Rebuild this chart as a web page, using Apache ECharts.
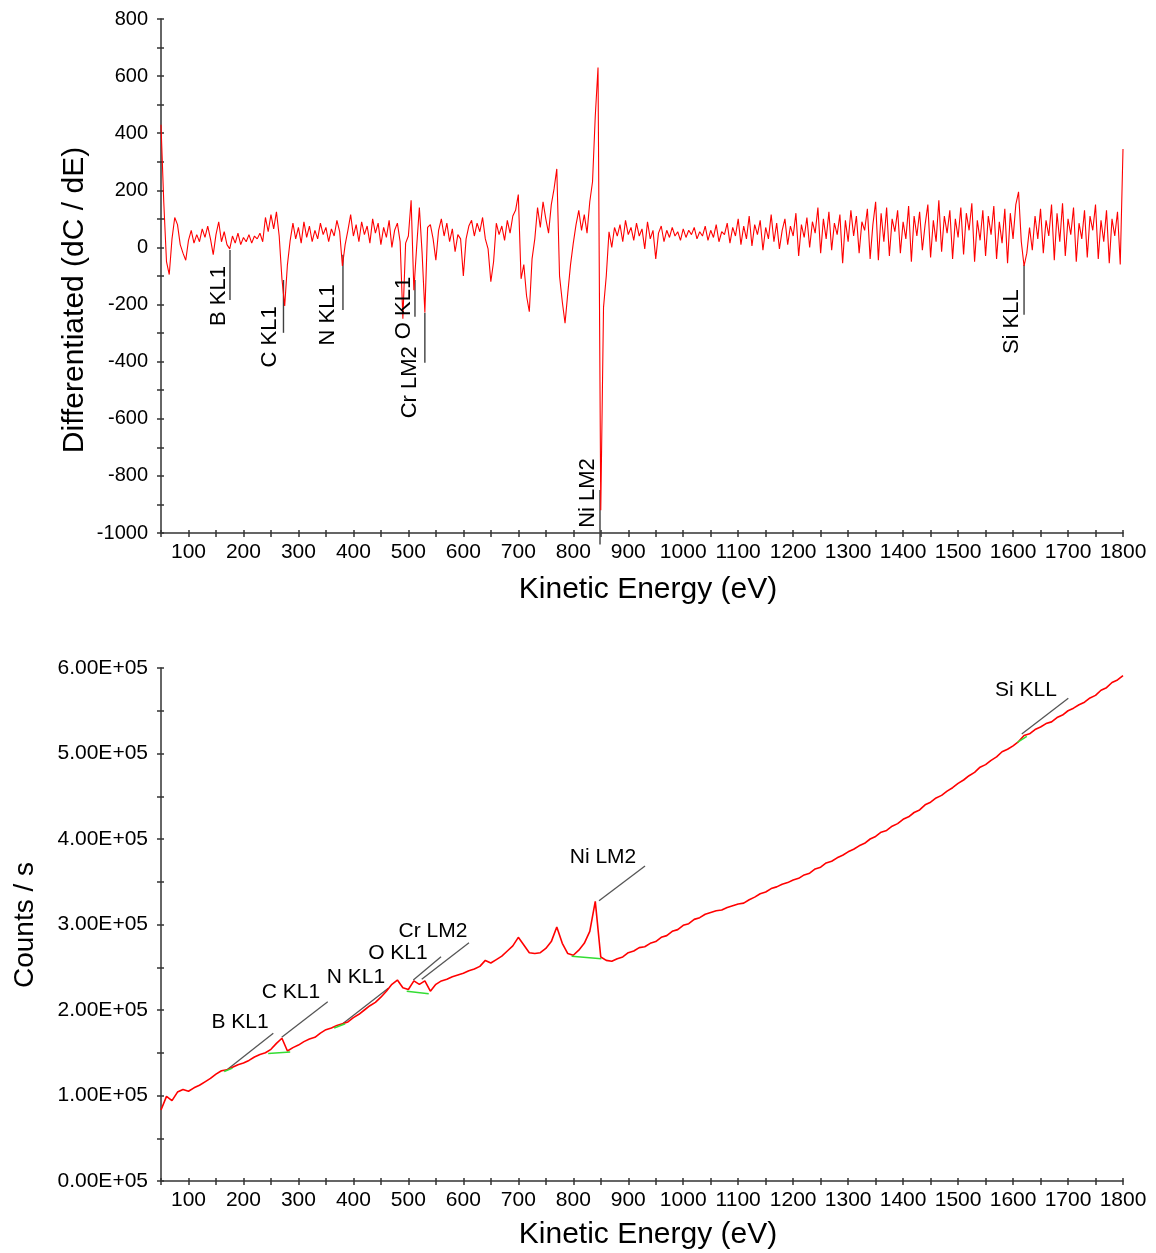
<!DOCTYPE html>
<html><head><meta charset="utf-8">
<script src="https://cdn.jsdelivr.net/npm/echarts@6/dist/echarts.min.js"></script>
<style>html,body{margin:0;padding:0;background:#fff}#c{width:1156px;height:1253px}</style>
</head><body><div id="c"></div>
<script>
// ---- sampling grids (eV) ----
const ENERGY_START = 50;
const DIFF_STEP = 5;     // differentiated spectrum sampling
const COUNTS_STEP = 10;  // direct spectrum sampling

// ---- top: differentiated spectrum dC/dE, 50..1800 eV every 5 eV ----
const differentiated = [
  430,160,-50,-95,30,105,80,10,-20,-45,25,60,15,45,20,65,35,75,30,-25,
  45,90,20,55,10,-5,40,15,50,10,35,20,45,15,40,30,50,20,105,55,
  115,65,125,40,-110,-205,-60,25,85,30,70,15,90,35,75,20,60,30,85,45,
  70,20,65,40,95,55,-65,10,60,115,40,80,20,90,45,75,15,100,50,85,
  10,70,35,95,0,60,85,20,-250,15,40,165,-150,0,140,-20,-228,70,80,30,
  -45,60,100,40,85,20,65,-15,45,30,-100,30,75,95,40,85,55,105,30,-5,
  -120,-50,85,45,75,25,95,50,110,130,185,-110,-60,-170,-225,-40,30,140,70,160,
  100,50,150,205,275,-100,-190,-265,-160,-60,15,80,130,60,115,50,160,230,460,630,
  -920,-210,-100,55,0,70,40,80,20,95,45,70,25,85,40,65,-5,90,30,60,
  -40,50,75,20,60,35,70,40,55,25,65,35,60,45,70,30,55,40,75,25,
  60,35,80,20,55,45,85,15,70,40,100,10,75,30,110,5,80,45,95,-10,
  70,30,115,20,85,-5,60,100,10,75,40,120,-30,80,35,105,0,90,50,140,
  -20,100,30,125,-10,85,45,115,-55,95,20,130,40,110,-20,90,60,135,-40,80,
  160,-45,120,20,140,-30,100,55,130,-20,90,30,145,-50,110,40,125,-10,80,150,
  -35,95,20,165,-15,110,50,130,-40,100,35,140,-25,120,60,155,-50,95,25,130,
  -30,110,45,145,-40,90,15,135,-55,120,30,150,195,20,-65,-20,70,-10,110,30,
  135,-20,95,40,150,-45,120,20,155,-30,100,45,140,-50,85,30,130,-35,110,60,
  150,-40,95,20,130,-55,100,40,125,-60,345
];

// ---- bottom: direct spectrum, counts/s in thousands, 50..1800 eV every 10 eV ----
const countsK = [
  83,99,94,104,107,105,109,112,116,120,125,129,130,133,136,138,141,145,148,150,
  154,161,167,152,156,159,163,166,168,173,177,179,182,184,186,191,195,200,205,209,
  215,222,230,235,226,224,234,230,234,222,230,234,236,239,241,243,246,248,251,258,
  255,259,263,269,275,285,276,267,266,267,272,280,297,278,266,264,270,278,292,327,
  262,258,257,260,262,267,269,273,274,278,280,285,287,292,294,299,301,306,308,312,
  314,316,317,320,322,324,325,329,332,336,338,342,344,347,349,352,354,358,360,365,
  367,372,374,378,381,385,388,392,395,400,403,408,410,415,418,423,426,431,434,440,
  443,448,451,456,460,465,469,474,478,484,487,492,496,502,505,509,514,521,523,528,
  531,535,537,542,545,550,553,557,560,565,568,574,577,583,586,591
];

// ---- peak identifications ----
const peakNames = ['B KL1','C KL1','N KL1','O KL1','Cr LM2','Ni LM2','Si KLL'];
// top chart: vertical markers (energy, top value, bottom value) and rotated label anchor
const topMarkEnergy = [175.5, 272.8, 381, 512, 530, 848.6, 1620];
const topMarkHigh   = [-9, -114, -26, -114, -229, -849, -61];
const topMarkLow    = [-184, -299, -219, -243, -404, -1040, -236];
const topLabelEnergy = [155, 248, 354, 492, 503, 827, 1598];
const topLabelValue  = [-170, -313, -236, -212, -472, -860, -260];
// bottom chart: slanted leader lines (from peak to label) and label anchor
const botLineE1 = [169.5, 269.6, 381.6, 509, 524.3, 846.8, 1615.8];
const botLineC1 = [129.8, 168, 184.4, 235, 236, 327.8, 522.8];
const botLineE2 = [254.3, 353.3, 463.5, 559.4, 610.3, 930.5, 1700.5];
const botLineC2 = [172.7, 209.7, 225.4, 262.3, 278.7, 368.4, 564.6];
const botLabelE = [193.7, 286.5, 404.7, 481, 544.8, 854, 1623.6];
const botLabelC = [186, 221, 238.6, 266.7, 292.4, 379, 574.3];
// background (green) segments under peaks
const bgStartE = [165, 245, 365, 497, 797, 1608];
const bgStartC = [128, 149, 179, 222, 263, 513];
const bgEndE   = [180, 285, 385, 537, 851, 1625];
const bgEndC   = [132, 151, 184, 219, 260, 520];

const FONT = "'Liberation Sans', Arial, sans-serif";
const AX = '#333333';

function xMain(g){
  return {type:'value', gridIndex:g, min:50, max:1800, interval:50, position:'bottom',
    axisLine:{show:true,onZero:false,lineStyle:{color:AX,width:1.5}},
    axisTick:{show:true,length:4,lineStyle:{color:AX,width:1.5}},
    axisLabel:{fontSize:21,color:'#000',fontFamily:FONT,margin:9,
      formatter:v=> (v%100===0 ? String(v) : '')},
    splitLine:{show:false}};
}
function xInner(g){
  return {type:'value', gridIndex:g, min:50, max:1800, interval:50, position:'bottom',
    axisLine:{show:false,onZero:false},
    axisTick:{show:true,inside:true,length:3,lineStyle:{color:AX,width:1.5}},
    axisLabel:{show:false}, splitLine:{show:false}};
}
function yAxisDef(g, min, max, interval, fmt, main, fs){
  return {type:'value', gridIndex:g, min:min, max:max, interval:interval, position:'left',
    axisLine:{show:main,onZero:false,lineStyle:{color:AX,width:1.5}},
    axisTick:{show:true,inside:!main,length:main?4:3,lineStyle:{color:AX,width:1.5}},
    axisLabel:{show:main,fontSize:fs,color:'#000',fontFamily:FONT,margin:13,formatter:fmt},
    splitLine:{show:false}};
}

const series = [];
series.push({type:'line', xAxisIndex:0, yAxisIndex:0, z:3, showSymbol:false, silent:true,
  data: differentiated.map((v,i)=>[ENERGY_START + i*DIFF_STEP, v]),
  lineStyle:{color:'#ff0000', width:1.1}});
series.push({type:'line', xAxisIndex:2, yAxisIndex:2, z:3, showSymbol:false, silent:true,
  data: countsK.map((v,i)=>[ENERGY_START + i*COUNTS_STEP, v]),
  lineStyle:{color:'#ff0000', width:1.6}});

peakNames.forEach((n,i)=>{
  series.push({type:'line', xAxisIndex:0, yAxisIndex:0, z:2, showSymbol:false, silent:true, clip:false,
    data:[[topMarkEnergy[i], topMarkHigh[i]],[topMarkEnergy[i], topMarkLow[i]]],
    lineStyle:{color:'#404040', width:1.4}});
  series.push({type:'line', xAxisIndex:2, yAxisIndex:2, z:2, showSymbol:false, silent:true,
    data:[[botLineE1[i], botLineC1[i]],[botLineE2[i], botLineC2[i]]],
    lineStyle:{color:'#555555', width:1.3}});
});
bgStartE.forEach((e,i)=>{
  series.push({type:'line', xAxisIndex:2, yAxisIndex:2, z:4, showSymbol:false, silent:true,
    data:[[e, bgStartC[i]],[bgEndE[i], bgEndC[i]]],
    lineStyle:{color:'#33dd33', width:1.5}});
});
const labelBase = {show:true, position:'inside', formatter:p=>p.name, color:'#000',
  fontFamily:FONT, textBorderWidth:0, opacity:1};
series.push({type:'scatter', xAxisIndex:0, yAxisIndex:0, z:5, symbolSize:0, silent:true,
  itemStyle:{color:'rgba(0,0,0,0)'},
  label:Object.assign({}, labelBase, {rotate:90, fontSize:22}),
  data: peakNames.map((n,i)=>({name:n, value:[topLabelEnergy[i], topLabelValue[i]]}))});
series.push({type:'scatter', xAxisIndex:2, yAxisIndex:2, z:5, symbolSize:0, silent:true,
  itemStyle:{color:'rgba(0,0,0,0)'},
  label:Object.assign({}, labelBase, {fontSize:21}),
  data: peakNames.map((n,i)=>({name:n, value:[botLabelE[i], botLabelC[i]]}))});

const chart = echarts.init(document.getElementById('c'), null, {renderer:'canvas'});
chart.setOption({
  animation:false,
  backgroundColor:'#ffffff',
  grid:[
    {left:161, right:33, top:19, height:514},
    {left:161, right:33, top:668, height:513}
  ],
  xAxis:[xMain(0), xInner(0), xMain(1), xInner(1)],
  yAxis:[
    yAxisDef(0,-1000,800,100, v=> (v%200===0 ? String(v) : ''), true, 20),
    yAxisDef(0,-1000,800,100, ()=> '', false, 20),
    yAxisDef(1,0,600,50, v=> (v%100===0 ? (v/100).toFixed(2)+'E+05' : ''), true, 21),
    yAxisDef(1,0,600,50, ()=> '', false, 21)
  ],
  series: series,
  graphic:[
    {type:'text', x:75, y:300, rotation:Math.PI/2, silent:true,
      style:{text:'Differentiated (dC / dE)', fontSize:30, fontFamily:FONT, fill:'#000', textAlign:'center', textVerticalAlign:'middle'}},
    {type:'text', x:648, y:590, silent:true,
      style:{text:'Kinetic Energy (eV)', fontSize:30, fontFamily:FONT, fill:'#000', textAlign:'center', textVerticalAlign:'middle'}},
    {type:'text', x:25, y:925, rotation:Math.PI/2, silent:true,
      style:{text:'Counts / s', fontSize:28, fontFamily:FONT, fill:'#000', textAlign:'center', textVerticalAlign:'middle'}},
    {type:'text', x:648, y:1235, silent:true,
      style:{text:'Kinetic Energy (eV)', fontSize:30, fontFamily:FONT, fill:'#000', textAlign:'center', textVerticalAlign:'middle'}}
  ]
});
</script></body></html>
